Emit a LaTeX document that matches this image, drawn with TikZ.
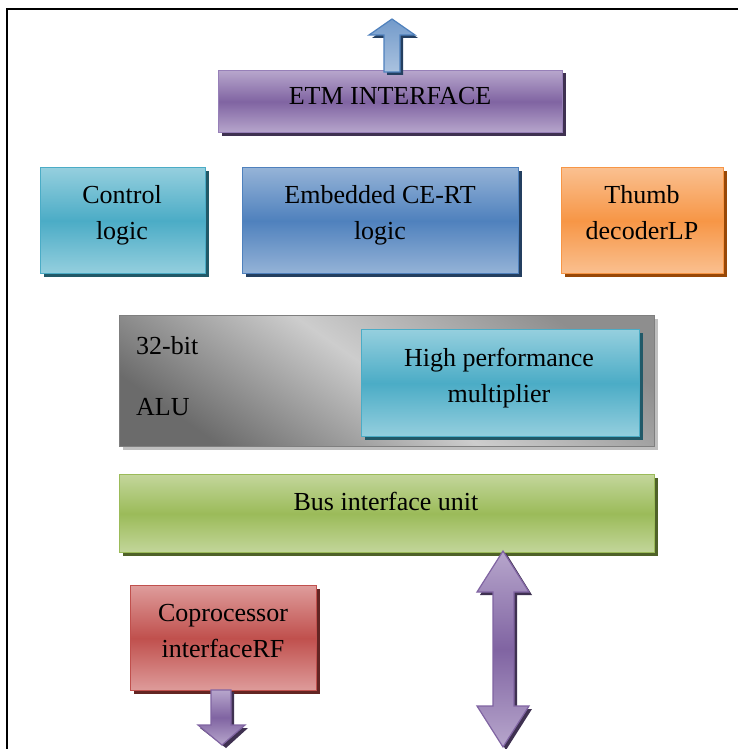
\documentclass[tikz,border=0pt]{standalone}
\usepackage{fontspec}
\setmainfont{Liberation Serif}
\usetikzlibrary{calc}
\definecolor{purA}{HTML}{8064A2}\definecolor{purL}{HTML}{B7A6CC}\definecolor{purS}{HTML}{3F3151}\definecolor{purB}{HTML}{9780B8}
\definecolor{tealA}{HTML}{4BACC6}\definecolor{tealL}{HTML}{95CFDE}\definecolor{tealS}{HTML}{215968}
\definecolor{bluA}{HTML}{4F81BD}\definecolor{bluL}{HTML}{95B3D7}\definecolor{bluS}{HTML}{243F60}
\definecolor{oraA}{HTML}{F79646}\definecolor{oraL}{HTML}{FAC090}\definecolor{oraS}{HTML}{984807}
\definecolor{grnA}{HTML}{9BBB59}\definecolor{grnL}{HTML}{C3D69B}\definecolor{grnS}{HTML}{4F6228}
\definecolor{redA}{HTML}{C0504D}\definecolor{redL}{HTML}{DE9C9B}\definecolor{redS}{HTML}{632523}
\definecolor{gryD}{HTML}{6B6B6B}\definecolor{gryM}{HTML}{CDCDCD}\definecolor{gryT}{HTML}{8E8E8E}\definecolor{gryB}{HTML}{7F7F7F}\definecolor{gryS}{HTML}{BFBFBF}
\tikzset{
  blockbox/.style={draw, line width=1.4pt, inner sep=0pt, anchor=north west},
  purbox/.style={blockbox, draw=purB, top color=purL, bottom color=purL, middle color=purA},
  tealbox/.style={blockbox, draw=tealA, top color=tealL, bottom color=tealL, middle color=tealA},
  blubox/.style={blockbox, draw=bluA, top color=bluL, bottom color=bluL, middle color=bluA},
  orabox/.style={blockbox, draw=oraA, top color=oraL, bottom color=oraL, middle color=oraA},
  grnbox/.style={blockbox, draw=grnA, top color=grnL, bottom color=grnL, middle color=grnA},
  redbox/.style={blockbox, draw=redA, top color=redL, bottom color=redL, middle color=redA},
  grybox/.style={blockbox, draw=gryB, top color=gryT, bottom color=gryD, middle color=gryM, shading angle=-35},
  lbl/.style={font=\fontsize{26}{36}\selectfont, anchor=base, inner sep=0pt},
  lbll/.style={lbl, anchor=base west},
  purarrow/.style={draw=purA, line width=1.2pt, top color=purL, bottom color=purL, middle color=purA},
  bluarrow/.style={draw=bluA, line width=1.2pt, top color=bluA!80!white, bottom color=bluL!80!white},
}
\newcommand\blockbox[7]{%
  \fill[#3] (#4+3.5,#5+3.5) rectangle ++(#6,#7);
  \node[#2, minimum width=#6pt, minimum height=#7pt] (#1) at (#4,#5) {};}
\begin{document}
\begin{tikzpicture}[x=1pt,y=-1pt]
\useasboundingbox (0,0) rectangle (738,749);
\fill[white] (0,0) rectangle (738,749);
\draw[line width=2pt] (7,749) -- (7,9) -- (738,9);
% boxes
\blockbox{etm}{purbox}{purS}{218}{70}{344}{62}
\blockbox{ctrl}{tealbox}{tealS}{40}{167}{165}{106}
\blockbox{emb}{blubox}{bluS}{242}{167}{276}{106}
\blockbox{thumb}{orabox}{oraS}{561}{167}{162}{106}
\blockbox{alu}{grybox}{gryS}{119}{315}{535}{131}
\blockbox{mult}{tealbox}{tealS}{361}{329}{278}{107}
\blockbox{bus}{grnbox}{grnS}{119}{474}{535}{78}
\blockbox{cop}{redbox}{redS}{130}{585}{186}{105}
% labels
\node[lbl] (tetm) at (390,105) {ETM INTERFACE};
\node[lbl] (tctrl1) at (122,203) {Control};
\node[lbl] (tctrl2) at (122,239) {logic};
\node[lbl] (temb1) at (380,203) {Embedded CE-RT};
\node[lbl] (temb2) at (380,239) {logic};
\node[lbl] (tth1) at (642,203) {Thumb};
\node[lbl] (tth2) at (642,239) {decoderLP};
\node[lbll] (talu1) at (136,354) {32-bit};
\node[lbll] (talu2) at (136,415) {ALU};
\node[lbl] (tmul1) at (499,366) {High performance};
\node[lbl] (tmul2) at (499,402) {multiplier};
\node[lbl] (tbus) at (386,510) {Bus interface unit};
\node[lbl] (tcop1) at (223,621) {Coprocessor};
\node[lbl] (tcop2) at (223,657) {interfaceRF};
% up arrow from ETM
\fill[bluS] (387,75) -- (387,38) -- (372,38) -- (395,22) -- (418,38) -- (403,38) -- (403,75) -- cycle;
\path[bluarrow] (384,72) -- (384,35) -- (369,35) -- (392,19) -- (415,35) -- (400,35) -- (400,72) -- cycle;
% double arrow at bus
\fill[purS] (496,595) -- (480,595) -- (506,553) -- (532,595) -- (517,595) -- (517,709) -- (532,709) -- (506,750) -- (480,709) -- (496,709) -- cycle;
\path[purarrow] (493,592) -- (477,592) -- (503,551) -- (529,592) -- (514,592) -- (514,706) -- (529,706) -- (503,747) -- (477,706) -- (493,706) -- cycle;
% down arrow from coprocessor
\fill[purS] (214,692) -- (234,692) -- (234,728) -- (248,728) -- (226,748) -- (200,728) -- (214,728) -- cycle;
\path[purarrow] (211,690) -- (231,690) -- (231,725) -- (245,725) -- (222,745) -- (198,725) -- (211,725) -- cycle;
\end{tikzpicture}
\end{document}
